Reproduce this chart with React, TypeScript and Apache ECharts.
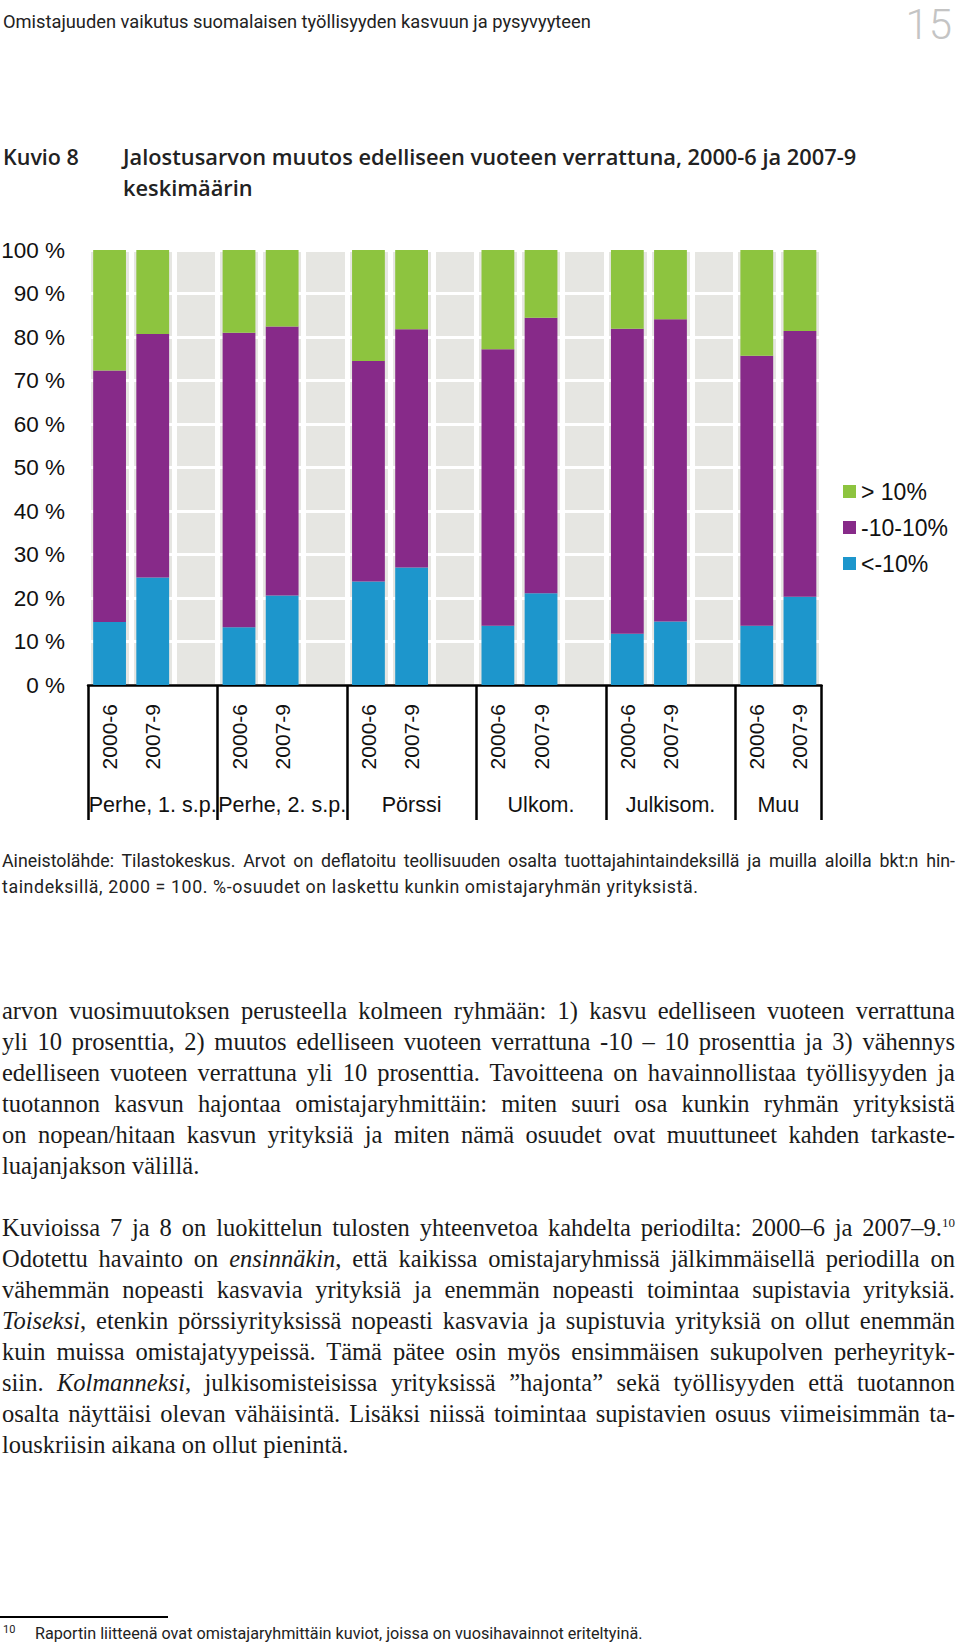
import React, { useEffect, useRef } from "react";
import * as echarts from "echarts";

// ---------- data ----------
const groups = ["Perhe, 1. s.p.", "Perhe, 2. s.p.", "Pörssi", "Ulkom.", "Julkisom.", "Muu"];
const periods = ["2000-6", "2007-9"];
const legendNames = ["> 10%", "-10-10%", "<-10%"];
// order: group by group, 2000-6 then 2007-9
const underMinus10 = [14.5, 24.7, 13.3, 20.6, 23.8, 27.0, 13.6, 21.1, 11.8, 14.6, 13.6, 20.3];
const between10 = [57.8, 56.0, 67.7, 61.8, 50.7, 54.8, 63.6, 63.3, 70.1, 69.5, 62.1, 61.1];
const over10 = [27.7, 19.3, 19.0, 17.6, 25.5, 18.2, 22.8, 15.6, 18.1, 15.9, 24.3, 18.6];
const yMin = 0;
const yMax = 100;
const yStep = 10;

const colors = { over: "#8dc43f", mid: "#872a89", under: "#1d96cc" };
const SANS = "'Liberation Sans', Arial, sans-serif";

function buildCategories() {
  const cats: string[] = [];
  const idx: (number | null)[] = [];
  const groupCenters: number[] = [];
  groups.forEach((g, gi) => {
    const start = cats.length;
    periods.forEach((p, pi) => {
      cats.push(g + "|" + p);
      idx.push(gi * periods.length + pi);
    });
    const isLast = gi === groups.length - 1;
    groupCenters.push(start + periods.length / 2 + (isLast ? 0 : 0.5));
    if (!isLast) {
      cats.push("gap" + gi);
      idx.push(null);
    }
  });
  return { cats, idx, groupCenters };
}

function Chart() {
  const ref = useRef<HTMLDivElement>(null);
  useEffect(() => {
    if (!ref.current) return;
    const chart = echarts.init(ref.current, null, { renderer: "svg" });
    const { cats, idx, groupCenters } = buildCategories();
    const pick = (arr: number[]) => idx.map((i) => (i === null ? "-" : arr[i]));
    const barBase = {
      type: "bar",
      stack: "total",
      barWidth: "76%",
      xAxisIndex: 0,
      yAxisIndex: 0,
    };
    chart.setOption({
      animation: false,
      grid: {
        left: 88,
        top: 250,
        width: 733.5,
        height: 435,
        show: true,
        backgroundColor: "#e6e6e2",
        borderWidth: 0,
        outerBoundsMode: "none",
      },
      legend: {
        orient: "vertical",
        left: 843,
        top: 480,
        padding: 0,
        itemWidth: 13,
        itemHeight: 13,
        itemGap: 13,
        icon: "rect",
        data: legendNames,
        textStyle: { fontSize: 23, lineHeight: 23, fontFamily: SANS, color: "#111" },
      },
      xAxis: [
        {
          type: "category",
          data: cats,
          boundaryGap: true,
          position: "bottom",
          axisLine: { show: true, lineStyle: { color: "#000", width: 2.5 } },
          axisTick: {
            show: true,
            interval: (i: number) => i % (periods.length + 1) === 0,
            length: 135,
            lineStyle: { color: "#000", width: 2.5 },
          },
          axisLabel: {
            interval: 0,
            rotate: 90,
            margin: 19,
            fontSize: 21,
            fontFamily: SANS,
            color: "#111",
            formatter: (v: string) => (v.indexOf("|") >= 0 ? v.split("|")[1] : ""),
          },
          splitLine: { show: true, interval: 0, lineStyle: { color: "#ffffff", width: 5 } },
        },
        {
          type: "value",
          min: 0,
          max: cats.length,
          position: "bottom",
          axisLine: { show: false },
          axisTick: { show: false },
          splitLine: { show: false },
          axisLabel: {
            customValues: groupCenters,
            margin: 109,
            fontSize: 21.5,
            fontFamily: SANS,
            color: "#111",
            formatter: (v: number) => {
              const k = groupCenters.findIndex((c) => Math.abs(c - v) < 1e-6);
              return k >= 0 ? groups[k] : "";
            },
          },
        },
      ],
      yAxis: {
        type: "value",
        min: yMin,
        max: yMax,
        interval: yStep,
        axisLine: { show: false },
        axisTick: { show: false },
        axisLabel: {
          formatter: "{value} %",
          fontSize: 22.5,
          fontFamily: SANS,
          color: "#111",
          margin: 23,
        },
        splitLine: { show: true, lineStyle: { color: "#ffffff", width: 3 } },
      },
      series: [
        { ...barBase, name: legendNames[2], data: pick(underMinus10), itemStyle: { color: colors.under } },
        { ...barBase, name: legendNames[1], data: pick(between10), itemStyle: { color: colors.mid } },
        { ...barBase, name: legendNames[0], data: pick(over10), itemStyle: { color: colors.over } },
      ],
    });
    return () => chart.dispose();
  }, []);
  return (
    <div
      ref={ref}
      style={{ position: "absolute", left: 0, top: 0, width: 960, height: 900 }}
    />
  );
}

const LH = 31;

function Line({ children, last }: { children: React.ReactNode; last?: boolean }) {
  return (
    <div
      style={{
        whiteSpace: "nowrap",
        textAlign: last ? "left" : "justify",
        textAlignLast: last ? "left" : "justify",
        height: LH,
        lineHeight: LH + "px",
      }}
    >
      {children}
    </div>
  );
}

export default function App() {
  const serif = "'Liberation Serif', 'Times New Roman', serif";
  const sans = "Roboto, 'Open Sans', sans-serif";
  return (
    <div
      style={{
        position: "absolute",
        left: 0,
        top: 0,
        width: 960,
        height: 1650,
        background: "#fff",
        overflow: "hidden",
        color: "#1a1a1a",
      }}
    >
      <div style={{ position: "absolute", left: 3, top: 12, fontFamily: sans, fontSize: 18.3, lineHeight: "20px", color: "#222" }}>
        Omistajuuden vaikutus suomalaisen työllisyyden kasvuun ja pysyvyyteen
      </div>
      <div style={{ position: "absolute", right: 8, top: 0, fontFamily: sans, fontWeight: 300, fontSize: 42, lineHeight: "50px", color: "#c4c4c4" }}>
        15
      </div>
      <div style={{ position: "absolute", left: 3, top: 141, fontFamily: "'Open Sans', sans-serif", fontWeight: 600, fontSize: 21.5, lineHeight: "31px", color: "#222" }}>
        Kuvio 8
      </div>
      <div style={{ position: "absolute", left: 123, top: 141, fontFamily: "'Open Sans', sans-serif", fontWeight: 600, fontSize: 21.8, lineHeight: "31px", color: "#222" }}>
        <div>Jalostusarvon muutos edelliseen vuoteen verrattuna, 2000-6 ja 2007-9</div>
        <div>keskimäärin</div>
      </div>

      <Chart />

      <div style={{ position: "absolute", left: 2, top: 848, width: 953, fontFamily: sans, fontSize: 17.8, color: "#222" }}>
        <div style={{ whiteSpace: "nowrap", textAlign: "justify", textAlignLast: "justify", lineHeight: "26px" }}>
          Aineistolähde: Tilastokeskus. Arvot on deflatoitu teollisuuden osalta tuottajahintaindeksillä ja muilla aloilla bkt:n hin-
        </div>
        <div style={{ whiteSpace: "nowrap", lineHeight: "26px", letterSpacing: 0.6 }}>
          taindeksillä, 2000 = 100. %-osuudet on laskettu kunkin omistajaryhmän yrityksistä.
        </div>
      </div>

      <div style={{ position: "absolute", left: 2, top: 994.5, width: 953, fontFamily: serif, fontSize: 24.5, color: "#1a1a1a" }}>
        <Line>arvon vuosimuutoksen perusteella kolmeen ryhmään: 1) kasvu edelliseen vuoteen verrattuna</Line>
        <Line>yli 10 prosenttia, 2) muutos edelliseen vuoteen verrattuna -10 – 10 prosenttia ja 3) vähennys</Line>
        <Line>edelliseen vuoteen verrattuna yli 10 prosenttia. Tavoitteena on havainnollistaa työllisyyden ja</Line>
        <Line>tuotannon kasvun hajontaa omistajaryhmittäin: miten suuri osa kunkin ryhmän yrityksistä</Line>
        <Line>on nopean/hitaan kasvun yrityksiä ja miten nämä osuudet ovat muuttuneet kahden tarkaste-</Line>
        <Line last>luajanjakson välillä.</Line>
        <div style={{ height: LH }} />
        <Line>
          Kuvioissa 7 ja 8 on luokittelun tulosten yhteenvetoa kahdelta periodilta: 2000–6 ja 2007–9.
          <sup style={{ fontSize: 13, lineHeight: 0 }}>10</sup>
        </Line>
        <Line>
          Odotettu havainto on <i>ensinnäkin</i>, että kaikissa omistajaryhmissä jälkimmäisellä periodilla on
        </Line>
        <Line>vähemmän nopeasti kasvavia yrityksiä ja enemmän nopeasti toimintaa supistavia yrityksiä.</Line>
        <Line>
          <i>Toiseksi</i>, etenkin pörssiyrityksissä nopeasti kasvavia ja supistuvia yrityksiä on ollut enemmän
        </Line>
        <Line>kuin muissa omistajatyypeissä. Tämä pätee osin myös ensimmäisen sukupolven perheyrityk-</Line>
        <Line>
          siin. <i>Kolmanneksi</i>, julkisomisteisissa yrityksissä ”hajonta” sekä työllisyyden että tuotannon
        </Line>
        <Line>osalta näyttäisi olevan vähäisintä. Lisäksi niissä toimintaa supistavien osuus viimeisimmän ta-</Line>
        <Line last>louskriisin aikana on ollut pienintä.</Line>
      </div>

      <div style={{ position: "absolute", left: 0, top: 1616, width: 168, height: 2, background: "#000" }} />
      <div style={{ position: "absolute", left: 3, top: 1623, fontFamily: sans, fontSize: 11, lineHeight: "14px", color: "#222" }}>10</div>
      <div style={{ position: "absolute", left: 35, top: 1623, fontFamily: sans, fontSize: 16.2, lineHeight: "21px", color: "#222", whiteSpace: "nowrap" }}>
        Raportin liitteenä ovat omistajaryhmittäin kuviot, joissa on vuosihavainnot eriteltyinä.
      </div>
    </div>
  );
}
